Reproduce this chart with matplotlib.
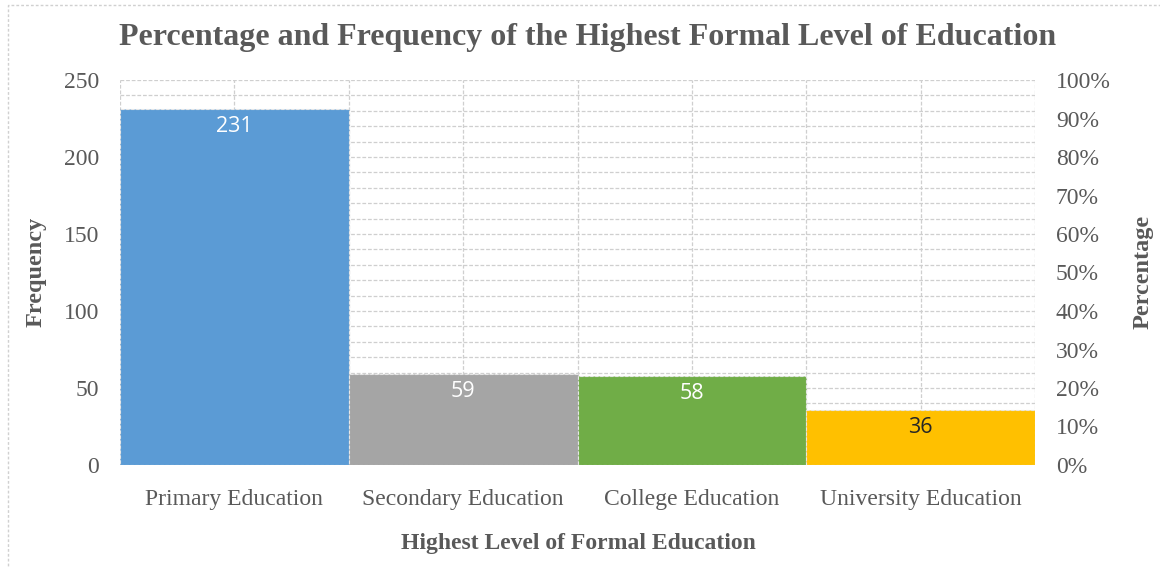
import matplotlib
matplotlib.use("Agg")
import matplotlib.pyplot as plt
from matplotlib.patches import Rectangle

categories = ["Primary Education", "Secondary Education", "College Education", "University Education"]
frequency = [231, 59, 58, 36]
bar_colors = ["#5B9BD5", "#A5A5A5", "#70AD47", "#FFC000"]
label_colors = ["white", "white", "white", "#262626"]
freq_ticks = [0, 50, 100, 150, 200, 250]
pct_ticks = list(range(0, 101, 10))

serif = ["Liberation Serif", "DejaVu Serif"]
text_gray = "#595959"
grid_gray = "#CFCFCF"

fig = plt.figure(figsize=(11.6, 5.67), dpi=100)
ax = fig.add_axes([120 / 1160, 1 - 465 / 567, 915 / 1160, 385 / 567])

x = range(len(categories))
ax.set_xlim(-0.5, len(categories) - 0.5)
ax.set_ylim(0, 250)

# dashed grid: every 10 units horizontally, category centres and edges vertically
for yv in range(10, 251, 10):
    ax.axhline(yv, color=grid_gray, lw=0.9, ls=(0, (3, 1.5)), zorder=0)
for xv in [i * 0.5 - 0.5 for i in range(2 * len(categories) + 1)]:
    ax.axvline(xv, color=grid_gray, lw=0.9, ls=(0, (3, 1.5)), zorder=0)

bars = ax.bar(x, frequency, width=1.0, color=bar_colors, edgecolor="#E6E6E6",
              linewidth=0.8, linestyle=(0, (3, 1.5)), zorder=2)
for b, val, c in zip(bars, frequency, label_colors):
    ax.annotate(str(val), (b.get_x() + b.get_width() / 2, b.get_height()),
                xytext=(0, -5), textcoords="offset points", ha="center", va="top",
                fontsize=15.5, color=c, family=["Open Sans", "DejaVu Sans"], zorder=3)

for s in ax.spines.values():
    s.set_visible(False)
ax.axhline(0, color="#D9D9D9", lw=1, zorder=1)

ax.set_yticks(freq_ticks)
ax.set_xticks(list(x))
ax.set_xticklabels(categories)
ax.tick_params(axis="both", length=0, labelsize=17, labelcolor=text_gray)
ax.tick_params(axis="x", pad=17)
ax.tick_params(axis="y", pad=15)
for lab in ax.get_xticklabels() + ax.get_yticklabels():
    lab.set_family(serif)

ax2 = ax.twinx()
ax2.set_ylim(0, 100)
ax2.set_yticks(pct_ticks)
ax2.set_yticklabels([f"{p}%" for p in pct_ticks])
ax2.tick_params(axis="y", length=0, labelsize=17, labelcolor=text_gray, pad=15)
for lab in ax2.get_yticklabels():
    lab.set_family(serif)
for s in ax2.spines.values():
    s.set_visible(False)

fig.text(588 / 1160, 1 - 38 / 567, "Percentage and Frequency of the Highest Formal Level of Education",
         ha="center", va="center", fontsize=23, fontweight="bold", color=text_gray, family=serif)
fig.text(36 / 1160, 1 - 272 / 567, "Frequency", rotation=90, ha="center", va="center",
         fontsize=17.5, fontweight="bold", color=text_gray, family=serif)
fig.text(1143 / 1160, 1 - 272 / 567, "Percentage", rotation=90, ha="center", va="center",
         fontsize=17.5, fontweight="bold", color=text_gray, family=serif)
fig.text(578 / 1160, 1 - 543 / 567, "Highest Level of Formal Education", ha="center", va="center",
         fontsize=17, fontweight="bold", color=text_gray, family=serif)

# chart frame
fig.add_artist(Rectangle((8 / 1160, -0.01), 1.1, 1 - 5 / 567 + 0.01, transform=fig.transFigure,
                         fill=False, edgecolor="#D0D0D0", lw=1.0, ls=(0, (2, 1.5))))

fig.savefig("out.png", dpi=100)
